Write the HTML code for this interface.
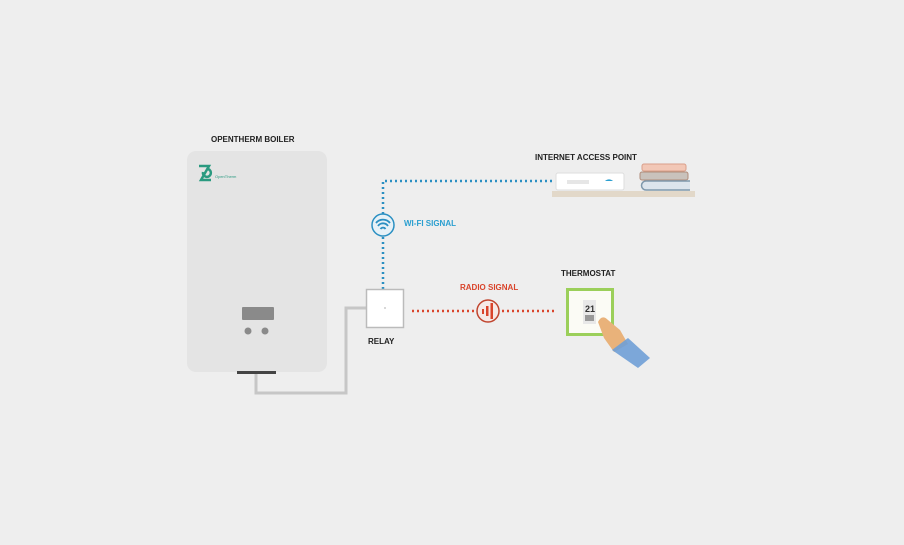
<!DOCTYPE html>
<html><head><style>
html,body{margin:0;padding:0;background:#eeeeee;}
svg{display:block}
text{font-family:"Liberation Sans",sans-serif;font-weight:bold;font-size:8px;}
</style></head><body>
<svg width="904" height="545" viewBox="0 0 904 545">
<rect width="904" height="545" fill="#eeeeee"/>
<!-- boiler -->
<text x="211" y="142" fill="#222">OPENTHERM BOILER</text>
<rect x="187" y="151" width="140" height="221" rx="9" fill="#e4e4e4"/>
<path d="M199 166 h10 l-8 14 h10 M203 172 a4 4 0 1 0 5 -3" stroke="#2a9a80" stroke-width="2.5" fill="none"/>
<text x="215" y="178" style="font-size:4px;font-weight:normal" fill="#2a9a80">OpenTherm</text>
<rect x="242" y="307" width="32" height="13" rx="1" fill="#8a8a8a"/>
<circle cx="248" cy="331" r="3.5" fill="#8a8a8a"/>
<circle cx="265" cy="331" r="3.5" fill="#8a8a8a"/>
<rect x="237" y="371" width="39" height="3" fill="#444"/>
<!-- pipe -->
<path d="M256 374 V393 H346 V308 H366" stroke="#c6c6c6" stroke-width="3" fill="none"/>
<!-- wifi line -->
<path d="M383 289 V181 H552" stroke="#2a8fc2" stroke-width="2.5" stroke-dasharray="2 3" fill="none"/>
<circle cx="383" cy="225" r="11" fill="#e6f1f7" stroke="#2a8fc2" stroke-width="1.5"/>
<path d="M376 223 a9 9 0 0 1 14 0 M378 226 a6 6 0 0 1 10 0 M380.5 229 a3 3 0 0 1 5 0" stroke="#2a8fc2" stroke-width="1.8" fill="none"/>
<text x="404" y="226" fill="#2a9fd0">WI-FI SIGNAL</text>
<!-- relay -->
<rect x="366.5" y="289.5" width="37" height="38" fill="#fff" stroke="#bbb" stroke-width="1.5"/>
<circle cx="385" cy="308" r="1" fill="#ccc"/>
<text x="368" y="344" fill="#222">RELAY</text>
<!-- radio -->
<path d="M412 311 H556" stroke="#d9442b" stroke-width="2.5" stroke-dasharray="2 3" fill="none"/>
<circle cx="488" cy="311" r="11" fill="#f6e9e6" stroke="#c0452f" stroke-width="1.5"/>
<rect x="482" y="309" width="2" height="5" fill="#d9442b"/>
<rect x="486" y="306" width="2.5" height="10" fill="#d9442b"/>
<rect x="490.5" y="303" width="2.5" height="16" fill="#d9442b"/>
<text x="460" y="290" fill="#d9442b">RADIO SIGNAL</text>
<!-- thermostat -->
<text x="561" y="276" fill="#222">THERMOSTAT</text>
<rect x="566" y="288" width="48" height="48" fill="#9bcf5a"/>
<rect x="569" y="291" width="42" height="42" fill="#fbfbf5"/>
<rect x="583" y="300" width="13" height="24" fill="#e8e8e8"/>
<text x="585" y="312" style="font-size:9px" fill="#333">21</text>
<rect x="585" y="315" width="9" height="6" fill="#999"/>
<path d="M598 322 q4 -8 10 -2 l12 10 l8 14 l-14 8 l-10 -14 z" fill="#e9b27a"/>
<path d="M612 350 l16 -12 l22 20 l-12 10 z" fill="#6f9fd6" opacity="0.9"/>
<!-- access point -->
<text x="535" y="160" fill="#222">INTERNET ACCESS POINT</text>
<rect x="552" y="191" width="143" height="6" fill="#e2d8c9"/>
<rect x="556" y="173" width="68" height="17" rx="2" fill="#fff" stroke="#ddd"/>
<rect x="567" y="180" width="22" height="4" fill="#e6e6e6"/>
<path d="M605 181 a5 4 0 0 1 8 0 z" fill="#2a9fd0"/>
<rect x="642" y="164" width="44" height="7" rx="2" fill="#f2c7b6" stroke="#d99f8a"/>
<rect x="640" y="172" width="48" height="8" rx="2" fill="#c9c2bc" stroke="#b08c7a"/>
<path d="M690 190 h-44 a4 4 0 0 1 0 -9 h44" fill="#dce4ec" stroke="#7f98ac" stroke-width="1.5"/>
</svg>
</body></html>
